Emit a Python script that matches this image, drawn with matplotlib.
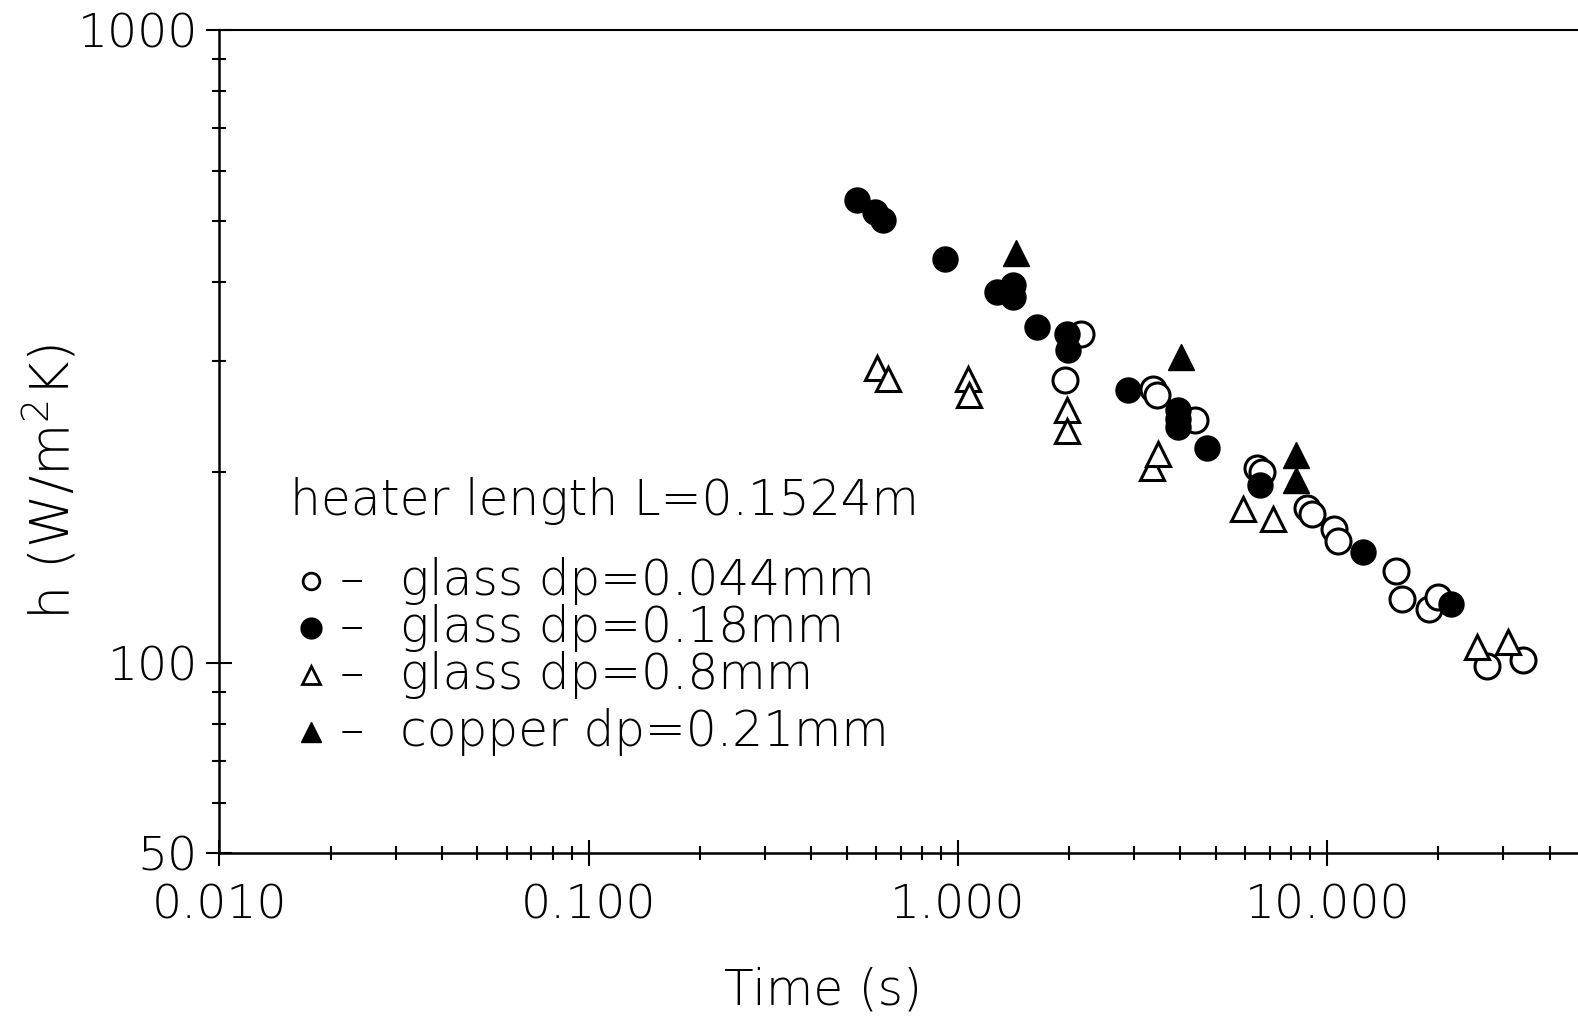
import numpy as np
import matplotlib
matplotlib.use("Agg")
import matplotlib.pyplot as plt
from matplotlib.ticker import FixedLocator, NullFormatter, FixedFormatter

plt.rcParams['font.family'] = ['DejaVu Sans']
plt.rcParams['font.weight'] = 'light'

# ---------------- data ----------------
# glass dp=0.044mm (open circles)
t_g044 = [1.95, 2.16, 3.38, 3.45, 4.38, 6.44, 6.64, 8.80, 9.08, 10.4, 10.7, 15.4, 15.9, 18.9, 20.0, 27.0, 33.8]
h_g044 = [280, 331, 271, 265, 242, 203, 200, 176, 172, 163, 156, 139.6, 126.3, 121.7, 127, 99, 101]

# glass dp=0.18mm (filled circles)
t_g018 = [0.532, 0.596, 0.628, 0.922, 1.273, 1.411, 1.411, 1.634, 1.970, 1.989, 2.892, 3.95, 3.95, 3.95, 4.73, 6.57, 12.5, 21.6]
h_g018 = [539, 516, 501, 435, 386, 395, 379, 340, 331, 312, 270, 251, 243, 236, 219, 191, 150, 124]

# glass dp=0.8mm (open triangles)
t_g08 = [0.605, 0.648, 1.066, 1.072, 1.977, 1.977, 3.35, 3.49, 5.90, 7.11, 25.4, 30.9]
h_g08 = [292, 281, 281, 265, 251, 233, 203, 214, 175, 169, 106, 108]

# copper dp=0.21mm (filled triangles)
t_cu = [1.433, 4.03, 8.21, 8.21]
h_cu = [445, 304, 213.5, 194.7]

legend_labels = ["glass dp=0.044mm", "glass dp=0.18mm", "glass dp=0.8mm", "copper dp=0.21mm"]
xtick_vals = [0.01, 0.1, 1, 10, 100]
xtick_labels = ["0.010", "0.100", "1.000", "10.000", ""]
ytick_vals = [50, 100, 1000]
ytick_labels = ["50", "100", "1000"]

# ---------------- figure ----------------
fig = plt.figure(figsize=(15.78, 10.18), dpi=100)
ax = fig.add_axes([0.1390, 0.1616, 0.9361, 0.8088])

ax.set_xscale('log')
ax.set_yscale('log')
ax.set_xlim(0.01, 100)
ax.set_ylim(50, 1000)

ax.plot(t_g044, h_g044, 'o', ms=18, mfc='white', mec='black', mew=2.2, ls='none', zorder=3)
ax.plot(t_g018, h_g018, 'o', ms=18, mfc='black', mec='black', mew=1, ls='none', zorder=3)
ax.plot(t_g08, h_g08, '^', ms=17, mfc='white', mec='black', mew=2.2, ls='none', zorder=3)
ax.plot(t_cu, h_cu, '^', ms=19, mfc='black', mec='black', mew=1, ls='none', zorder=3)

# axes / ticks
ax.spines['right'].set_visible(False)
for s in ['left', 'bottom']:
    ax.spines[s].set_linewidth(1.8)
ax.spines['top'].set_linewidth(1.5)

ax.xaxis.set_major_locator(FixedLocator(xtick_vals))
ax.xaxis.set_major_formatter(FixedFormatter(xtick_labels))
xminor = [m * 10.0**e for e in range(-2, 2) for m in range(2, 10)]
ax.xaxis.set_minor_locator(FixedLocator(xminor))
ax.xaxis.set_minor_formatter(NullFormatter())

ax.yaxis.set_major_locator(FixedLocator(ytick_vals))
ax.yaxis.set_major_formatter(FixedFormatter(ytick_labels))
yminor = [60, 70, 80, 90, 200, 300, 400, 500, 600, 700, 800, 900]
ax.yaxis.set_minor_locator(FixedLocator(yminor))
ax.yaxis.set_minor_formatter(NullFormatter())

ax.tick_params(which='major', direction='inout', length=19, width=1.5, labelsize=34, pad=6,
               top=False, right=False)
ax.tick_params(which='minor', direction='inout', length=9.5, width=1.5, top=False, right=False)
ax.tick_params(axis='x', which='major', pad=12)

# axis labels
fig.text(0.5217, 0.027, "Time (s)", fontsize=35, ha='center', va='center')
fig.text(0.033, 0.527, "h (W/m$^2$K)", fontsize=39, ha='center', va='center', rotation=90)

# hand-drawn style legend
fig.text(0.1838, 0.4938, "heater length L=0.1524m", fontsize=35, ha='left', va='baseline')
leg_y = [0.4296, 0.3831, 0.3366, 0.2813]
leg_base = [0.4157, 0.3693, 0.3228, 0.2675]
leg_styles = [dict(marker='o', ms=12, mfc='white', mec='black', mew=2),
              dict(marker='o', ms=15, mfc='black', mec='black', mew=1),
              dict(marker='^', ms=13, mfc='white', mec='black', mew=2),
              dict(marker='^', ms=15, mfc='black', mec='black', mew=1)]
for yy, yb, lab, st in zip(leg_y, leg_base, legend_labels, leg_styles):
    ax.plot([0.1970], [yy], transform=fig.transFigure, clip_on=False, ls='none', **st)
    fig.text(0.2155, yb, "\u2013", fontsize=35, ha='left', va='baseline')
    fig.text(0.2538, yb, lab, fontsize=35, ha='left', va='baseline')

fig.savefig("out.png", dpi=100)
